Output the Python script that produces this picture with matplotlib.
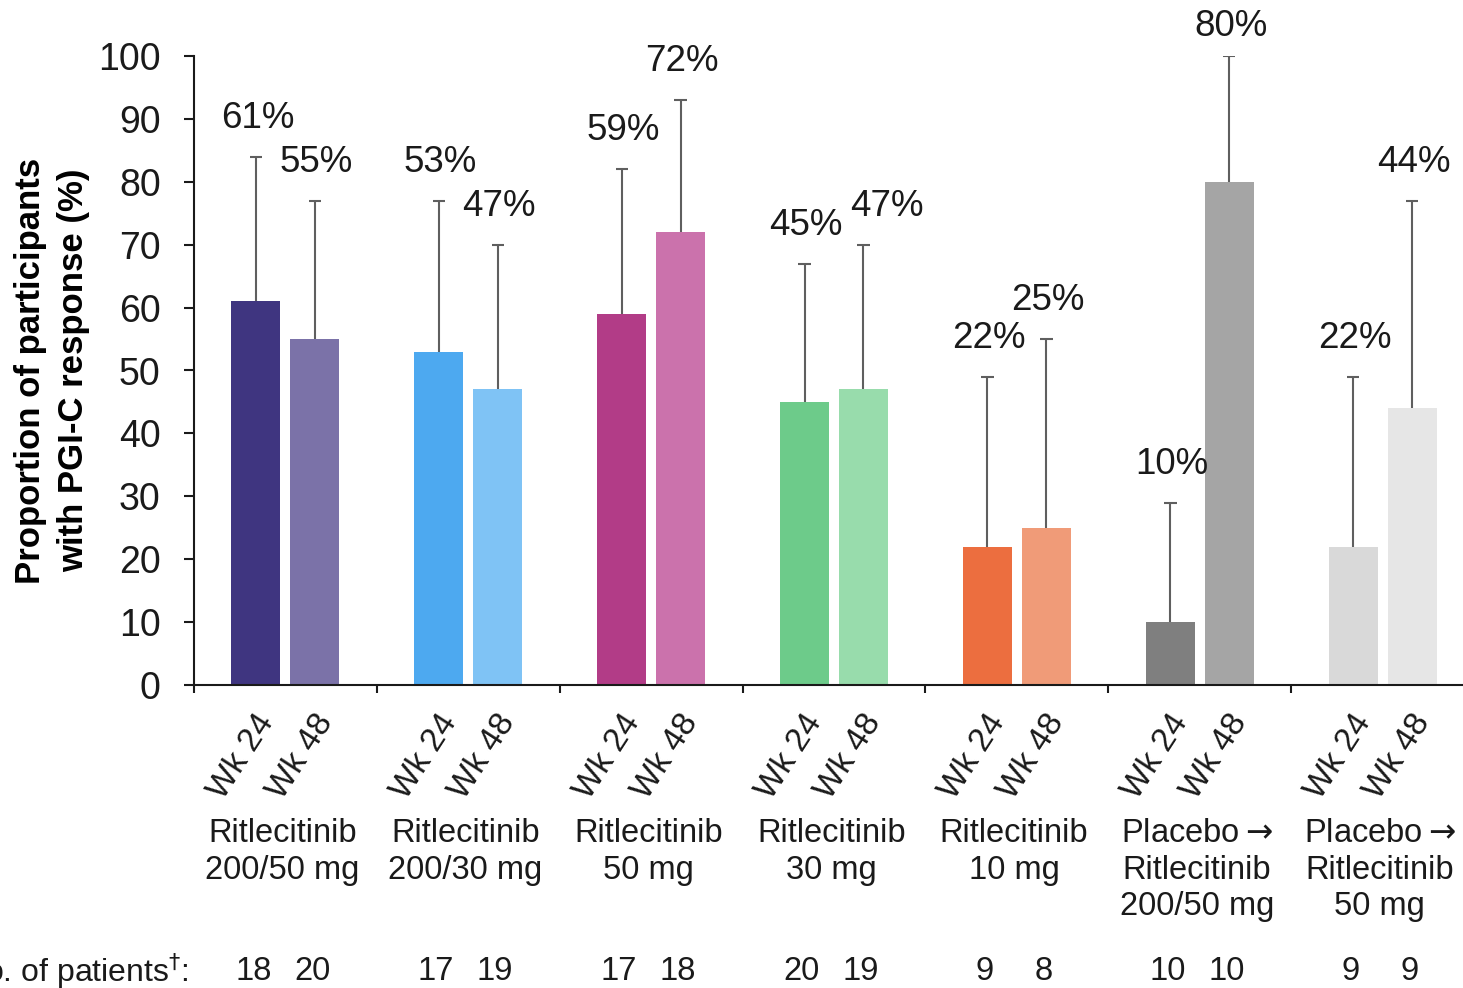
import matplotlib
matplotlib.use("Agg")
import matplotlib.pyplot as plt
import numpy as np

plt.rcParams["font.family"] = ["Liberation Sans", "DejaVu Sans"]
plt.rcParams["mathtext.fontset"] = "dejavusans"

groups = [
    "Ritlecitinib\n200/50 mg",
    "Ritlecitinib\n200/30 mg",
    "Ritlecitinib\n50 mg",
    "Ritlecitinib\n30 mg",
    "Ritlecitinib\n10 mg",
    "Placebo$\\rightarrow$\nRitlecitinib\n200/50 mg",
    "Placebo$\\rightarrow$\nRitlecitinib\n50 mg",
]
weeks = ["Wk 24", "Wk 48"]
wk24 = [61, 53, 59, 45, 22, 10, 22]
wk48 = [55, 47, 72, 47, 25, 80, 44]
wk24_upper = [84, 77, 82, 67, 49, 29, 49]
wk48_upper = [77, 70, 93, 70, 55, 100, 77]
n_wk24 = [18, 17, 17, 20, 9, 10, 9]
n_wk48 = [20, 19, 18, 19, 8, 10, 9]

colors_wk24 = ["#3f3580", "#4da9f0", "#b23c87", "#6dcb8a", "#ec6e3f", "#7f7f7f", "#d9d9d9"]
colors_wk48 = ["#7b72a8", "#7fc3f5", "#cb72ac", "#98dcac", "#f09b78", "#a5a5a5", "#e6e6e6"]

TXT = "#1a1a1a"
ERR = "#5f5f5f"

fig = plt.figure(figsize=(14.63, 9.88), dpi=100)
ax = fig.add_axes([0.1326, 0.3067, 0.875, 0.6366])

centers = np.arange(len(groups)) + 0.5
offset = 0.161
width = 0.268
cap = 0.034

series = [
    (centers - offset, wk24, wk24_upper, colors_wk24, n_wk24),
    (centers + offset, wk48, wk48_upper, colors_wk48, n_wk48),
]
for k, (xs, vals, upper, cols, ns) in enumerate(series):
    ax.bar(xs, vals, width=width, color=cols, zorder=2)
    # upper-only whiskers with a cap at the top end
    ax.vlines(xs, vals, upper, color=ERR, lw=1.5, zorder=3)
    ax.hlines(upper, xs - cap, xs + cap, color=ERR, lw=1.5, zorder=3)
    for i, (x, v, u, n) in enumerate(zip(xs, vals, upper, ns)):
        dy = 15 if u < 95 else 9
        dx = 1
        # nudge the Wk 48 label right when it would collide with the Wk 24 one
        if k == 1 and abs(wk48_upper[i] - wk24_upper[i]) < 5:
            dx = 17
        ax.annotate(f"{v}%", xy=(x, u), xytext=(dx, dy), textcoords="offset points",
                    ha="center", va="bottom", fontsize=26.5, color=TXT)
        ax.annotate(weeks[k], xy=(x, 0), xycoords=("data", "axes fraction"),
                    xytext=(8, -23), textcoords="offset points",
                    rotation=57, rotation_mode="anchor", ha="right", va="center",
                    fontsize=24, color=TXT)
        ax.annotate(str(n), xy=(x, 0), xycoords=("data", "axes fraction"),
                    xytext=(-2, -206), textcoords="offset points",
                    ha="center", va="center", fontsize=23.5, color=TXT)

for c, g in zip(centers, groups):
    ax.annotate(g, xy=(c, 0), xycoords=("data", "axes fraction"),
                xytext=(-2, -96), textcoords="offset points",
                ha="center", va="top", fontsize=23.5, color=TXT,
                linespacing=1.22)

ax.annotate("No. of patients$^{\\dagger}$:", xy=(0, 0), xycoords="axes fraction",
            xytext=(-4, -206), textcoords="offset points",
            ha="right", va="center", fontsize=23, color=TXT)

ax.set_xlim(0, len(groups))
ax.set_ylim(0, 100)
ax.set_yticks(np.arange(0, 101, 10))
ax.set_xticks(np.arange(len(groups) + 1))
ax.set_xticklabels([])
ax.tick_params(axis="y", labelsize=27, length=7, width=1.5, direction="out", pad=17,
               colors=TXT)
ax.tick_params(axis="x", length=6, width=1.5, direction="out", colors=TXT)
for side in ["top", "right"]:
    ax.spines[side].set_visible(False)
for side in ["left", "bottom"]:
    ax.spines[side].set_linewidth(1.5)
    ax.spines[side].set_color(TXT)

ax.set_ylabel("Proportion of participants\nwith PGI-C response (%)", fontsize=25,
              fontweight="bold", labelpad=6, linespacing=1.38)

fig.savefig("out.png", dpi=100)
